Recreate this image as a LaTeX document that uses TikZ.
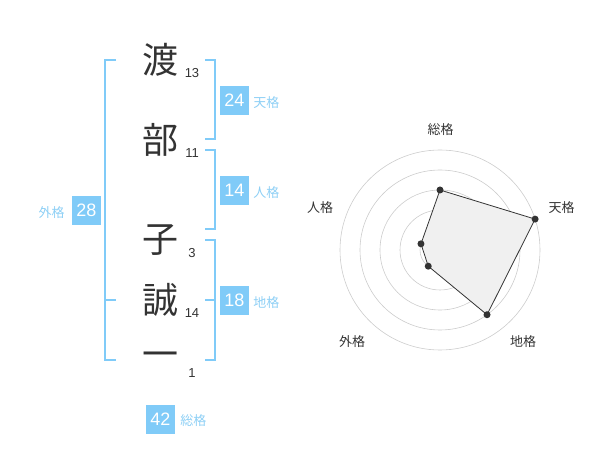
\documentclass[tikz,border=0pt]{standalone}
\usepackage{fontspec}
\setmainfont{Liberation Sans}
\newfontfamily\jp{Noto Sans CJK JP}
\usepackage{tikz}
\usetikzlibrary{positioning}
\definecolor{skyline}{HTML}{80CBF8}
\definecolor{skytext}{HTML}{8DCFF5}
\definecolor{ink}{HTML}{333333}
\definecolor{ringgray}{HTML}{CCCCCC}
\definecolor{areagray}{HTML}{F0F0F0}

\begin{document}
\begin{tikzpicture}[line cap=butt,line join=miter,x=1pt,y=-1pt,
  kanji/.style={text=ink,font=\jp\fontsize{36}{36}\selectfont,inner sep=0pt},
  strokes/.style={text=ink,font=\fontsize{13}{13}\selectfont,inner sep=0pt},
  bar/.style={draw=skyline,line width=2pt},
  box/.style={fill=skyline,text=white,minimum size=29pt,inner sep=0pt,font=\fontsize{18}{18}\selectfont},
  kaku/.style={text=skytext,font=\jp\fontsize{13}{13}\selectfont,inner sep=0pt},
  ring/.style={draw=ringgray,line width=0.6pt},
  axis/.style={text=ink,font=\jp\fontsize{13}{13}\selectfont,inner sep=0pt},
  dot/.style={circle,fill=ink,inner sep=0pt,minimum size=7pt}]
\useasboundingbox (0,0) rectangle (600,470);
\node[kanji] (c1) at (160,60) {渡};
\node[kanji] (c2) at (160,140) {部};
\node[kanji] (c3) at (160,240) {子};
\node[kanji] (c4) at (160,300) {誠};
\node[kanji] (c5) at (160,360) {一};
\node[strokes] (s1) at (192,73) {13};
\node[strokes] (s2) at (192,153) {11};
\node[strokes] (s3) at (192,253) {3};
\node[strokes] (s4) at (192,313) {14};
\node[strokes] (s5) at (192,373) {1};
\draw[bar] (116,60) -- (105,60) -- (105,360) -- (116,360);
\draw[bar] (105,300) -- (116,300);
\draw[bar] (205,60) -- (215,60) -- (215,139) -- (205,139);
\draw[bar] (205,150) -- (215,150) -- (215,229) -- (205,229);
\draw[bar] (205,240) -- (215,240) -- (215,360) -- (205,360);
\draw[bar] (205,300) -- (215,300);
\node[box] (ten) at (234.5,100.5) {24};
\node[kaku,right=4pt of ten,yshift=-2pt] (tenl) {天格};
\node[box] (jin) at (234.5,190.5) {14};
\node[kaku,right=4pt of jin,yshift=-2pt] (jinl) {人格};
\node[box] (chi) at (234.5,300.5) {18};
\node[kaku,right=4pt of chi,yshift=-2pt] (chil) {地格};
\node[box] (gai) at (86.5,210.5) {28};
\node[kaku,left=7pt of gai,yshift=-2pt] (gail) {外格};
\node[box] (sou) at (160.5,419) {42};
\node[kaku,right=5pt of sou,yshift=-2pt] (soul) {総格};
\coordinate (o) at (440,250);
\foreach \r in {20,40,...,100}
  \draw[ring] (o) circle (\r);
\fill[ringgray] (o) circle (3);
\coordinate (psou) at ([shift={(-90:60)}]o);
\coordinate (pten) at ([shift={(-18:100)}]o);
\coordinate (pchi) at ([shift={(54:80)}]o);
\coordinate (pgai) at ([shift={(126:20)}]o);
\coordinate (pjin) at ([shift={(198:20)}]o);
\filldraw[fill=areagray,draw=ink,line width=0.8pt,line join=round] (psou) -- (pten) -- (pchi) -- (pgai) -- (pjin) -- cycle;
\foreach \p in {psou,pten,pchi,pgai,pjin}
  \node[dot] (d\p) at (\p) {};
\node[axis] (asou) at (440.5,130) {総格};
\node[axis] (aten) at (561.5,208) {天格};
\node[axis] (achi) at (523,342) {地格};
\node[axis] (agai) at (352,342) {外格};
\node[axis] (ajin) at (320,208) {人格};
\end{tikzpicture}
\end{document}
